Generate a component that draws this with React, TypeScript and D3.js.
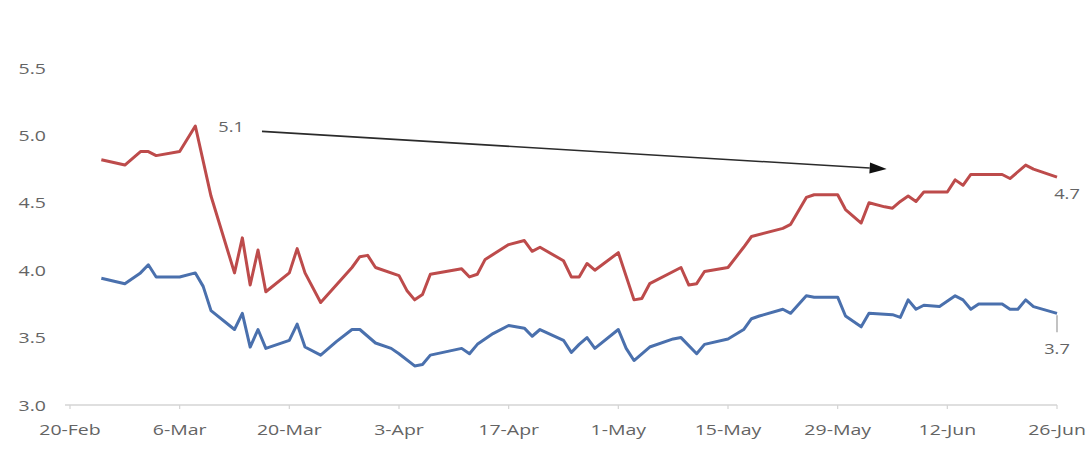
import React from "react";
import * as d3 from "d3";

const YEAR = 2021;
const tickLabels = ["20-Feb", "6-Mar", "20-Mar", "3-Apr", "17-Apr", "1-May", "15-May", "29-May", "12-Jun", "26-Jun"];
const yTicks = [3.0, 3.5, 4.0, 4.5, 5.0, 5.5];

const redDates = [
  "24-Feb", "27-Feb", "1-Mar", "2-Mar", "3-Mar", "6-Mar", "8-Mar", "10-Mar", "13-Mar", "14-Mar",
  "15-Mar", "16-Mar", "17-Mar", "20-Mar", "21-Mar", "22-Mar", "24-Mar", "28-Mar", "29-Mar", "30-Mar",
  "31-Mar", "3-Apr", "4-Apr", "5-Apr", "6-Apr", "7-Apr", "11-Apr", "12-Apr", "13-Apr", "14-Apr",
  "17-Apr", "19-Apr", "20-Apr", "21-Apr", "24-Apr", "25-Apr", "26-Apr", "27-Apr", "28-Apr", "1-May",
  "3-May", "4-May", "5-May", "9-May", "10-May", "11-May", "12-May", "15-May", "17-May", "18-May",
  "22-May", "23-May", "25-May", "26-May", "29-May", "30-May", "1-Jun", "2-Jun", "4-Jun", "5-Jun",
  "6-Jun", "7-Jun", "8-Jun", "9-Jun", "12-Jun", "13-Jun", "14-Jun", "15-Jun", "19-Jun", "20-Jun",
  "22-Jun", "23-Jun", "26-Jun",
];
const redValues = [
  4.82, 4.78, 4.88, 4.88, 4.85, 4.88, 5.07, 4.55, 3.98, 4.24,
  3.89, 4.15, 3.84, 3.98, 4.16, 3.98, 3.76, 4.02, 4.10, 4.11,
  4.02, 3.96, 3.85, 3.78, 3.82, 3.97, 4.01, 3.95, 3.97, 4.08,
  4.19, 4.22, 4.14, 4.17, 4.07, 3.95, 3.95, 4.05, 4.00, 4.13,
  3.78, 3.79, 3.90, 4.02, 3.89, 3.90, 3.99, 4.02, 4.17, 4.25,
  4.31, 4.34, 4.54, 4.56, 4.56, 4.45, 4.35, 4.50, 4.47, 4.46,
  4.51, 4.55, 4.51, 4.58, 4.58, 4.67, 4.63, 4.71, 4.71, 4.68,
  4.78, 4.75, 4.69,
];

const blueDates = [
  "24-Feb", "27-Feb", "1-Mar", "2-Mar", "3-Mar", "6-Mar", "8-Mar", "9-Mar", "10-Mar", "13-Mar",
  "14-Mar", "15-Mar", "16-Mar", "17-Mar", "20-Mar", "21-Mar", "22-Mar", "24-Mar", "26-Mar", "28-Mar",
  "29-Mar", "31-Mar", "2-Apr", "3-Apr", "5-Apr", "6-Apr", "7-Apr", "11-Apr", "12-Apr", "13-Apr",
  "15-Apr", "17-Apr", "19-Apr", "20-Apr", "21-Apr", "24-Apr", "25-Apr", "26-Apr", "27-Apr", "28-Apr",
  "1-May", "2-May", "3-May", "5-May", "8-May", "9-May", "11-May", "12-May", "15-May", "17-May",
  "18-May", "19-May", "22-May", "23-May", "25-May", "26-May", "29-May", "30-May", "1-Jun", "2-Jun",
  "5-Jun", "6-Jun", "7-Jun", "8-Jun", "9-Jun", "11-Jun", "13-Jun", "14-Jun", "15-Jun", "16-Jun",
  "19-Jun", "20-Jun", "21-Jun", "22-Jun", "23-Jun", "26-Jun",
];
const blueValues = [
  3.94, 3.90, 3.98, 4.04, 3.95, 3.95, 3.98, 3.88, 3.70, 3.56,
  3.68, 3.43, 3.56, 3.42, 3.48, 3.60, 3.43, 3.37, 3.47, 3.56,
  3.56, 3.46, 3.42, 3.38, 3.29, 3.30, 3.37, 3.42, 3.38, 3.45,
  3.53, 3.59, 3.57, 3.51, 3.56, 3.48, 3.39, 3.45, 3.50, 3.42,
  3.56, 3.42, 3.33, 3.43, 3.49, 3.50, 3.38, 3.45, 3.49, 3.56,
  3.64, 3.66, 3.71, 3.68, 3.81, 3.80, 3.80, 3.66, 3.58, 3.68,
  3.67, 3.65, 3.78, 3.71, 3.74, 3.73, 3.81, 3.78, 3.71, 3.75,
  3.75, 3.71, 3.71, 3.78, 3.73, 3.68,
];

const peakLabel = "5.1";
const redEndLabel = "4.7";
const blueEndLabel = "3.7";
const arrowFrom = { date: "16-Mar", value: 5.03 };
const arrowTo = { date: "4-Jun", value: 4.75 };

const parse = d3.timeParse("%d-%b-%Y");
const toDate = (s: string) => parse(`${s}-${YEAR}`) as Date;

const W = 1087;
const H = 462;
const FONT = "'Open Sans', 'DejaVu Sans', sans-serif";
const TXT = "#646464";
const SX = 1.3;

function T({ x, y, anchor, children, size = 15 }: any) {
  return (
    <text
      transform={`translate(${x},${y}) scale(${SX},1)`}
      textAnchor={anchor}
      fontFamily={FONT}
      fontSize={size}
      fill={TXT}
    >
      {children}
    </text>
  );
}

export default function App() {
  const x = d3.scaleTime().domain([toDate(tickLabels[0]), toDate(tickLabels[tickLabels.length - 1])]).range([70, 1057]);
  const y = d3.scaleLinear().domain([3, 5.5]).range([405, 68]);

  const line = d3
    .line<[Date, number]>()
    .x((d) => x(d[0]))
    .y((d) => y(d[1]));

  const red: [Date, number][] = redDates.map((d, i) => [toDate(d), redValues[i]]);
  const blue: [Date, number][] = blueDates.map((d, i) => [toDate(d), blueValues[i]]);

  const peakIdx = redValues.indexOf(Math.max(...redValues));
  const peak = red[peakIdx];
  const redLast = red[red.length - 1];
  const blueLast = blue[blue.length - 1];

  const ax0 = x(toDate(arrowFrom.date)) + 4;
  const ay0 = y(arrowFrom.value);
  const ax1 = x(toDate(arrowTo.date)) + 2;
  const ay1 = y(arrowTo.value);
  const ang = Math.atan2(ay1 - ay0, ax1 - ax0);
  const hl = 17;
  const hw = 5.5;
  const bx = ax1 - hl * Math.cos(ang);
  const by = ay1 - hl * Math.sin(ang);
  const head = [
    [ax1, ay1],
    [bx + hw * Math.sin(ang), by - hw * Math.cos(ang)],
    [bx - hw * Math.sin(ang), by + hw * Math.cos(ang)],
  ]
    .map((p) => p.join(","))
    .join(" ");

  const x0 = x.range()[0] - 5;
  const x1 = x.range()[1];

  return (
    <svg width={W} height={H} style={{ position: "absolute", left: 0, top: 0, background: "#fff" }}>
      <rect width={W} height={H} fill="#fff" />
      {/* y tick labels */}
      {yTicks.map((t) => (
        <T key={t} x={46} y={y(t) + 5.5} anchor="end">
          {d3.format(".1f")(t)}
        </T>
      ))}
      {/* x axis */}
      <line x1={x0} x2={x1} y1={y(3)} y2={y(3)} stroke="#d4d4d4" strokeWidth={1.5} />
      {tickLabels.map((t) => (
        <g key={t}>
          <line x1={x(toDate(t))} x2={x(toDate(t))} y1={y(3)} y2={y(3) + 4} stroke="#d4d4d4" strokeWidth={1.2} />
          <T x={x(toDate(t))} y={y(3) + 30} anchor="middle">
            {t}
          </T>
        </g>
      ))}
      {/* series */}
      <path d={line(blue) || ""} fill="none" stroke="#4a70ad" strokeWidth={3} strokeLinejoin="round" />
      <path d={line(red) || ""} fill="none" stroke="#bd4b4b" strokeWidth={3} strokeLinejoin="round" />
      {/* annotations */}
      <T x={x(peak[0]) + 23} y={y(peak[1]) + 6} anchor="start" size={14}>
        {peakLabel}
      </T>
      <line x1={ax0} y1={ay0} x2={bx} y2={by} stroke="#2b2b2b" strokeWidth={1.6} />
      <polygon points={head} fill="#111" />
      <T x={x(redLast[0]) + 10} y={y(redLast[1]) + 22} anchor="middle" size={14}>
        {redEndLabel}
      </T>
      <line
        x1={x(blueLast[0])}
        x2={x(blueLast[0])}
        y1={y(blueLast[1]) + 2}
        y2={y(blueLast[1]) + 19}
        stroke="#9a9a9a"
        strokeWidth={1.2}
      />
      <T x={x(blueLast[0])} y={y(blueLast[1]) + 41} anchor="middle" size={14}>
        {blueEndLabel}
      </T>
    </svg>
  );
}
